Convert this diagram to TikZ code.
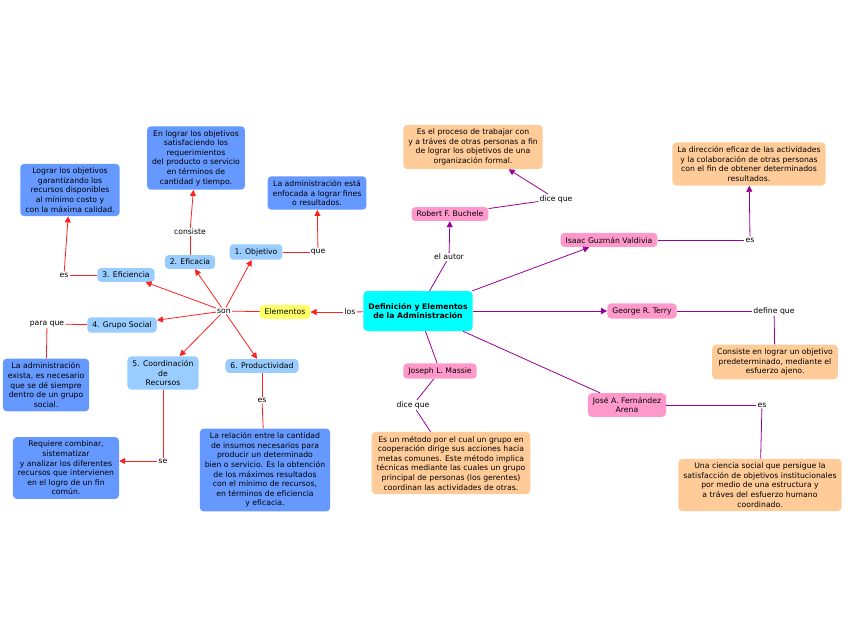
\documentclass[tikz,border=0pt]{standalone}
\usepackage{fontspec}
\setmainfont{DejaVu Sans}
\usetikzlibrary{arrows.meta}
\definecolor{azulosc}{HTML}{6699FF}
\definecolor{azulcla}{HTML}{99CCFF}
\definecolor{amarillo}{HTML}{FFFF66}
\definecolor{cian}{HTML}{00FFFF}
\definecolor{rosa}{HTML}{FF99CC}
\definecolor{durazno}{HTML}{FFCC99}
\definecolor{rojo}{HTML}{FF2020}
\definecolor{morado}{HTML}{990099}
\begin{document}
\begin{tikzpicture}[x=1pt,y=-1pt,
    caja/.style={rounded corners=4pt, align=center, inner xsep=5pt, inner ysep=4pt,
      font=\fontsize{7.7}{9.6}\selectfont},
    idea/.style={caja, fill=azulosc},
    elem/.style={caja, fill=azulcla},
    autor/.style={caja, fill=rosa},
    cita/.style={caja, fill=durazno},
    enlace/.style={inner sep=1pt, font=\fontsize{7.7}{9.6}\selectfont},
    rl/.style={draw=rojo, line width=0.8pt},
    ra/.style={rl, -{Triangle[length=6pt,width=6pt]}},
    ml/.style={draw=morado, line width=0.8pt},
    ma/.style={ml, -{Triangle[length=6pt,width=6pt]}}]
    \useasboundingbox (0,0) rectangle (848,638);
    % centro
    \node[caja, fill=cian, minimum width=97pt, minimum height=40pt, font=\fontsize{7.7}{9.6}\selectfont\bfseries] (adm) at (418,311) {Definición y Elementos\\de la Administración} ;
    \node[caja, fill=amarillo] (elementos) at (285,312) {Elementos} ;
    \node[enlace] (los) at (350,312) {los} ;
    \node[enlace] (son) at (224,311) {son} ;
    % elementos
    \node[elem] (objetivo) at (256,252) {1. Objetivo} ;
    \node[elem] (eficacia) at (190,262) {2. Eficacia} ;
    \node[elem] (eficiencia) at (126,275) {3. Eficiencia} ;
    \node[elem] (grupo) at (122,325) {4. Grupo Social} ;
    \node[elem] (coord) at (163,373) {5. Coordinación\\de\\Recursos} ;
    \node[elem] (prod) at (262,366) {6. Productividad} ;
    \node[enlace] (que) at (318,252) {que} ;
    \node[enlace] (consiste) at (190,232) {consiste} ;
    \node[enlace] (esef) at (64,275) {es} ;
    \node[enlace] (paraque) at (47,324) {para que} ;
    \node[enlace] (se) at (163,461) {se} ;
    \node[enlace] (espr) at (262,400) {es} ;
    \node[idea] (dobj) at (317,193) {La administración está\\enfocada a lograr fines\\o resultados.} ;
    \node[idea] (defc) at (196,158) {En lograr los objetivos\\satisfaciendo los\\requerimientos\\del producto o servicio\\en términos de\\cantidad y tiempo.} ;
    \node[idea] (defi) at (70,190) {Lograr los objetivos\\garantizando los\\recursos disponibles\\al mínimo costo y\\con la máxima calidad.} ;
    \node[idea] (dgru) at (46,385) {La administración\\exista, es necesario\\que se dé siempre\\dentro de un grupo\\social.} ;
    \node[idea] (dcoo) at (66,468) {Requiere combinar,\\sistematizar\\y analizar los diferentes\\recursos que intervienen\\en el logro de un fin\\común.} ;
    \node[idea] (dpro) at (265,470) {La relación entre la cantidad\\de insumos necesarios para\\producir un determinado\\bien o servicio. Es la obtención\\de los máximos resultados\\con el mínimo de recursos,\\en términos de eficiencia\\y eficacia.} ;
    % autores
    \node[autor] (buchele) at (450,214) {Robert F. Buchele} ;
    \node[autor] (guzman) at (609,240) {Isaac Guzmán Valdivia} ;
    \node[autor] (terry) at (642,311) {George R. Terry} ;
    \node[autor] (arena) at (627,405) {José A. Fernández\\Arena} ;
    \node[autor] (massie) at (440,371) {Joseph L. Massie} ;
    \node[enlace] (elautor) at (449,257) {el autor} ;
    \node[enlace] (dicebu) at (556,199) {dice que} ;
    \node[enlace] (esgu) at (750,240) {es} ;
    \node[enlace] (define) at (774,311) {define que} ;
    \node[enlace] (esar) at (762,405) {es} ;
    \node[enlace] (dicema) at (413,405) {dice que} ;
    \node[cita] (cbu) at (473,147) {Es el proceso de trabajar con\\y a tráves de otras personas a fin\\de lograr los objetivos de una\\organización formal.} ;
    \node[cita] (cgu) at (749,164) {La dirección eficaz de las actividades\\y la colaboración de otras personas\\con el fin de obtener determinados\\resultados.} ;
    \node[cita] (cte) at (775,362) {Consiste en lograr un objetivo\\predeterminado, mediante el\\esfuerzo ajeno.} ;
    \node[cita] (car) at (760,485) {Una ciencia social que persigue la\\satisfacción de objetivos institucionales\\por medio de una estructura y\\a tráves del esfuerzo humano\\coordinado.} ;
    \node[cita] (cma) at (451,463) {Es un método por el cual un grupo en\\cooperación dirige sus acciones hacia\\metas comunes. Este método implica\\técnicas mediante las cuales un grupo\\principal de personas (los gerentes)\\coordinan las actividades de otras.} ;
    % conectores rojos
    \draw[rl] (adm) -- (los) ;
    \draw[ra] (los) -- (elementos) ;
    \draw[rl] (elementos) -- (son) ;
    \foreach \e in {objetivo,eficacia,eficiencia,grupo,coord,prod}
      \draw[ra] (son) -- (\e) ;
    \draw[rl] (objetivo) -- (que) ;
    \draw[ra] (que) -- (dobj) ;
    \draw[rl] (eficacia) -- (consiste) ;
    \draw[ra] (consiste) -- (defc) ;
    \draw[rl] (eficiencia) -- (esef) ;
    \draw[ra] (esef) -- (defi) ;
    \draw[rl] (grupo) -- (paraque) ;
    \draw[rl] (paraque) -- (dgru) ;
    \draw[rl] (coord) -- (se) ;
    \draw[ra] (se.west) -- (se -| dcoo.east) ;
    \draw[rl] (prod) -- (espr) ;
    \draw[rl] (espr) -- (dpro) ;
    % conectores morados
    \draw[ml] (adm) -- (elautor) ;
    \draw[ma] (elautor) -- (buchele) ;
    \draw[ml] (buchele) -- (dicebu) ;
    \draw[ma] (dicebu) -- (cbu) ;
    \draw[ma] (adm) -- (guzman) ;
    \draw[ml] (guzman) -- (esgu) ;
    \draw[ma] (esgu) -- (cgu) ;
    \draw[ma] (adm) -- (terry) ;
    \draw[ml] (terry) -- (define) ;
    \draw[ml] (define) -- (cte) ;
    \draw[ml] (adm) -- (arena) ;
    \draw[ml] (arena) -- (esar) ;
    \draw[ml] (esar) -- (car) ;
    \draw[ml] (adm) -- (massie) ;
    \draw[ml] (massie) -- (dicema) ;
    \draw[ml] (dicema) -- (cma) ;
  \end{tikzpicture}
\end{document}
